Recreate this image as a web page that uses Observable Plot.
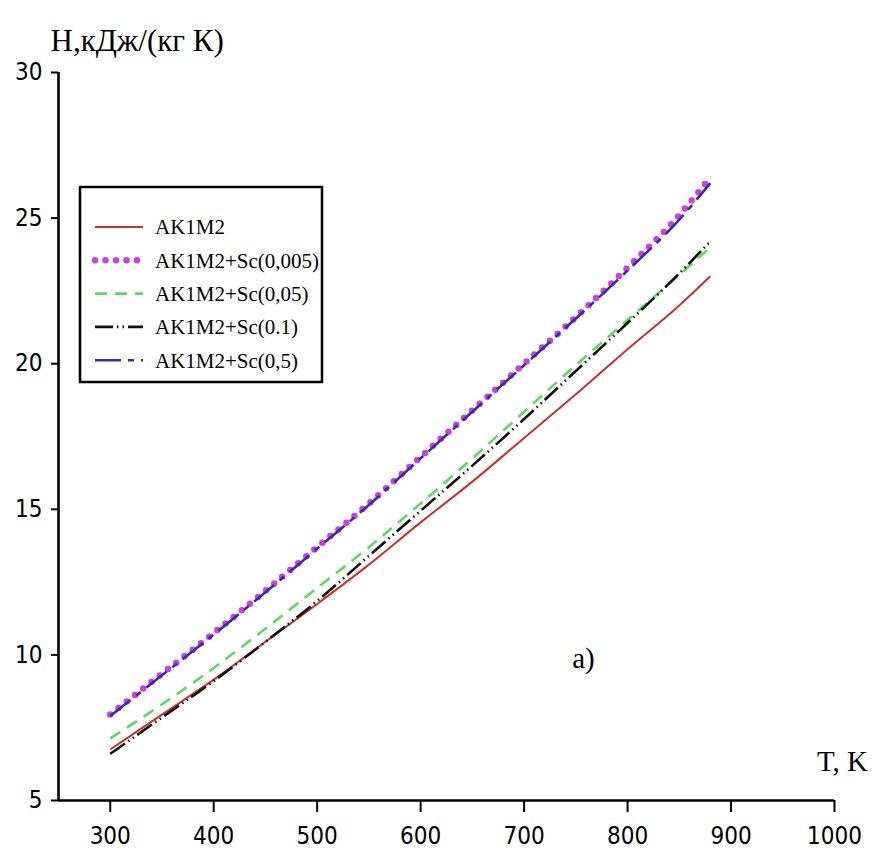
<!DOCTYPE html>
<html>
<head>
<meta charset="utf-8">
<script src="https://cdn.jsdelivr.net/npm/d3@7"></script>
<script src="https://cdn.jsdelivr.net/npm/@observablehq/plot@0.6"></script>
<style>
  body { margin: 0; background: #fff; }
  #chart svg { display: block; }
</style>
</head>
<body>
<div id="chart"></div>
<script>
// Enthalpy of AK1M2 alloy with scandium additions vs temperature
const temperature = [300, 350, 400, 450, 500, 550, 600, 650, 700, 750, 800, 850, 880];
const ak1m2   = [6.75, 7.95, 9.15, 10.45, 11.75, 13.1, 14.55, 15.95, 17.45, 18.95, 20.5, 22.0, 23.0];
const sc0005  = [7.95, 9.35, 10.75, 12.2, 13.7, 15.2, 16.8, 18.4, 20.0, 21.6, 23.3, 25.1, 26.4];
const sc005   = [7.13, 8.3, 9.55, 10.9, 12.3, 13.7, 15.2, 16.75, 18.35, 19.95, 21.5, 23.05, 24.0];
const sc01    = [6.6, 7.85, 9.1, 10.45, 11.85, 13.4, 14.95, 16.5, 18.1, 19.75, 21.4, 23.1, 24.2];
const sc05    = [7.9, 9.3, 10.7, 12.15, 13.65, 15.15, 16.75, 18.35, 19.95, 21.55, 23.2, 24.95, 26.2];

const seriesNames = ["AK1M2", "AK1M2+Sc(0,005)", "AK1M2+Sc(0,05)", "AK1M2+Sc(0.1)", "AK1M2+Sc(0,5)"];
const seriesValues = [ak1m2, sc0005, sc005, sc01, sc05];

const xTicks = [300, 400, 500, 600, 700, 800, 900, 1000];
const yTicks = [5, 10, 15, 20, 25, 30];

const yTitle = "H,кДж/(кг К)";
const xTitle = "T, K";
const panelLabel = "a)";

// line appearance for each series (same order as seriesNames)
const styles = [
  {stroke: "#c8322c", strokeWidth: 2, dash: null, cap: "butt"},
  {stroke: "#cc3fe0", strokeWidth: 6.5, dash: "0,10.5", cap: "round"},
  {stroke: "#5fd85f", strokeWidth: 2.6, dash: "12,8", cap: "butt"},
  {stroke: "#111111", strokeWidth: 2.6, dash: "18,4,1.5,4,1.5,4", cap: "butt"},
  {stroke: "#3b2aa8", strokeWidth: 2.6, dash: "26,7,6,7", cap: "butt"}
];
const drawOrder = [0, 2, 3, 1, 4];

const rows = seriesNames.flatMap((name, i) =>
  temperature.map((t, j) => ({series: name, T: t, H: seriesValues[i][j]})));

const sans = "'Liberation Sans Narrow', 'Arial Narrow', 'DejaVu Sans Condensed', 'Liberation Sans', sans-serif";
const serif = "'Liberation Serif', 'Times New Roman', serif";

const lineMarks = drawOrder.map(i => Plot.line(rows.filter(d => d.series === seriesNames[i]), {
  x: "T", y: "H",
  stroke: styles[i].stroke,
  strokeWidth: styles[i].strokeWidth,
  strokeDasharray: styles[i].dash,
  strokeLinecap: styles[i].cap,
  curve: "monotone-x"
}));

const plot = Plot.plot({
  width: 875,
  height: 858,
  marginLeft: 58,
  marginRight: 41,
  marginTop: 72,
  marginBottom: 58,
  style: {fontFamily: sans, fontSize: "24px", color: "#000", background: "#fff"},
  x: {domain: [250, 1000]},
  y: {domain: [5, 30]},
  marks: [
    Plot.axisX({ticks: xTicks, tickFormat: d => String(d), tickSize: 12, tickPadding: 14, strokeWidth: 2, label: null, fontSize: 24, fontFamily: sans}),
    Plot.axisY({ticks: yTicks, tickFormat: d => String(d), tickSize: 7, tickPadding: 9, strokeWidth: 2, label: null, fontSize: 24, fontFamily: sans}),
    ...lineMarks,
    Plot.ruleY([5], {stroke: "#000", strokeWidth: 2.6}),
    Plot.ruleX([250], {stroke: "#000", strokeWidth: 2.6}),
    Plot.text([yTitle], {frameAnchor: "top-left", dx: -8, dy: -44, textAnchor: "start", fontFamily: serif, fontSize: 31, fill: "#000"}),
    Plot.text([xTitle], {frameAnchor: "bottom-right", dx: 8, dy: -30, textAnchor: "middle", fontFamily: serif, fontSize: 29, fill: "#000"}),
    Plot.text([panelLabel], {frameAnchor: "bottom-left", dx: 525, dy: -133, textAnchor: "middle", fontFamily: serif, fontSize: 29, fill: "#000"})
  ]
});

document.getElementById("chart").append(plot);

// legend box in the upper-left corner of the plot area
const svg = d3.select(plot);
const legend = svg.append("g").attr("class", "legend").attr("text-anchor", "start");
legend.append("rect")
  .attr("x", 80).attr("y", 187).attr("width", 242).attr("height", 195)
  .attr("fill", "#fff").attr("stroke", "#000").attr("stroke-width", 2.5);
seriesNames.forEach((name, i) => {
  const y = 227 + i * 33.3;
  const s = styles[i];
  legend.append("line")
    .attr("x1", 95).attr("x2", 143).attr("y1", y).attr("y2", y)
    .attr("stroke", s.stroke).attr("stroke-width", s.strokeWidth)
    .attr("stroke-dasharray", s.dash)
    .attr("stroke-linecap", s.cap);
  legend.append("text")
    .attr("x", 155).attr("y", y).attr("dy", "0.35em")
    .attr("text-anchor", "start")
    .attr("font-family", serif).attr("font-size", 21).attr("fill", "#000")
    .text(name);
});
</script>
</body>
</html>
